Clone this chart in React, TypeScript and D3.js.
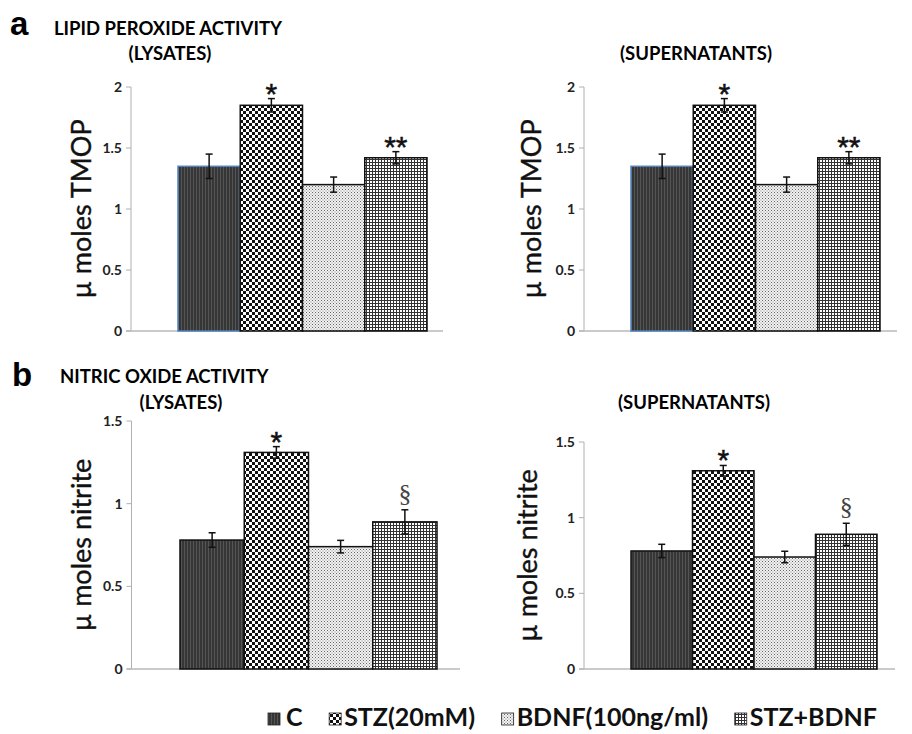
import React, { useLayoutEffect, useRef, useState } from "react";
import * as d3 from "d3";

// ---------- DATA ----------
const categories = ["C", "STZ(20mM)", "BDNF(100ng/ml)", "STZ+BDNF"];

const lipidLysates = [1.35, 1.85, 1.2, 1.42];
const lipidLysatesErr = [0.1, 0.055, 0.062, 0.05];
const lipidSupernatants = [1.35, 1.85, 1.2, 1.42];
const lipidSupernatantsErr = [0.1, 0.055, 0.062, 0.05];

const nitricLysates = [0.78, 1.31, 0.74, 0.89];
const nitricLysatesErr = [0.044, 0.035, 0.038, 0.073];
const nitricSupernatants = [0.78, 1.31, 0.74, 0.89];
const nitricSupernatantsErr = [0.044, 0.035, 0.038, 0.073];

const lipidTicks = [0, 0.5, 1, 1.5, 2];
const nitricTicks = [0, 0.5, 1, 1.5];

const lipidMarks = ["", "*", "", "**"];
const nitricMarks = ["", "*", "", "§"];

const patternIds = ["patC", "patSTZ", "patBDNF", "patBoth"];

const FONT = "Lato, 'Open Sans', sans-serif";

type PanelProps = {
  values: number[];
  errors: number[];
  marks: string[];
  ticks: number[];
  yMax: number;
  axisX: number;
  yTop: number;
  yBottom: number;
  barX0: number;
  barX1: number;
  xEnd: number;
  label: string;
  labelX: number;
  firstStroke: string;
};

function Panel(p: PanelProps) {
  const y = d3.scaleLinear().domain([0, p.yMax]).range([p.yBottom, p.yTop]);
  const x = d3.scaleBand<string>().domain(categories).range([p.barX0, p.barX1]).padding(0);
  const bw = x.bandwidth();
  const midY = (p.yTop + p.yBottom) / 2;
  return (
    <g>
      <line x1={p.axisX} x2={p.axisX} y1={y(p.yMax)} y2={p.yBottom} stroke="#b0b0b0" strokeWidth={1} />
      {p.ticks.map((t) => (
        <g key={t}>
          <line x1={p.axisX - 5} x2={p.axisX} y1={y(t)} y2={y(t)} stroke="#b0b0b0" strokeWidth={1} />
          <text
            x={p.axisX - 9}
            y={y(t)}
            dy="0.35em"
            textAnchor="end"
            fontFamily={FONT}
            fontWeight="bold"
            fontSize={14}
            fill="#222"
          >
            {d3.format("~g")(t)}
          </text>
        </g>
      ))}
      <line x1={p.axisX - 5} x2={p.xEnd} y1={p.yBottom} y2={p.yBottom} stroke="#b8b8b8" strokeWidth={1.5} />
      {categories.map((c, i) => (
        <rect
          key={c}
          x={x(c)}
          y={y(p.values[i])}
          width={bw}
          height={p.yBottom - y(p.values[i])}
          fill={`url(#${patternIds[i]})`}
          stroke={i === 0 ? p.firstStroke : "#111"}
          strokeWidth={1.5}
        />
      ))}
      {categories.map((c, i) => {
        const cx = (x(c) as number) + bw / 2;
        const top = y(p.values[i] + p.errors[i]);
        const bot = y(p.values[i] - p.errors[i]);
        return (
          <g key={c} stroke="#111" strokeWidth={1.5}>
            <line x1={cx} x2={cx} y1={top} y2={bot} />
            <line x1={cx - 3.5} x2={cx + 3.5} y1={top} y2={top} />
            <line x1={cx - 3.5} x2={cx + 3.5} y1={bot} y2={bot} />
          </g>
        );
      })}
      {categories.map((c, i) => {
        const m = p.marks[i];
        if (!m) return null;
        const cx = (x(c) as number) + bw / 2;
        const top = y(p.values[i] + p.errors[i]);
        if (m === "§") {
          return (
            <text key={c} x={cx} y={top - 8} textAnchor="middle" fontFamily="'Liberation Serif', serif" fontSize={26} fill="#444">
              {m}
            </text>
          );
        }
        return (
          <text key={c} x={cx} y={top + 5} textAnchor="middle" fontFamily="'Liberation Sans', Arial, sans-serif" fontSize={30} fill="#111" stroke="#111" strokeWidth={0.5}>
            {m}
          </text>
        );
      })}
      <text
        transform={`translate(${p.labelX},${midY}) rotate(-90)`}
        textAnchor="middle"
        fontFamily={FONT}
        fontSize={27}
        fill="#111"
        stroke="#111"
        strokeWidth={0.4}
      >
        {p.label}
      </text>
    </g>
  );
}

function Patterns() {
  return (
    <defs>
      <pattern id="patC" width={3} height={4} patternUnits="userSpaceOnUse">
        <rect width={3} height={4} fill="#363636" />
        <rect x={1} width={1} height={4} fill="#555" />
      </pattern>
      <pattern id="patSTZ" width={6} height={6} patternUnits="userSpaceOnUse">
        <rect width={6} height={6} fill="#ffffff" />
        <rect width={3} height={3} fill="#111" />
        <rect x={3} y={3} width={3} height={3} fill="#111" />
      </pattern>
      <pattern id="patBDNF" width={3} height={3} patternUnits="userSpaceOnUse">
        <rect width={3} height={3} fill="#f2f2f2" />
        <rect width={1} height={1} fill="#666" />
        <rect x={1.5} y={1.5} width={1} height={1} fill="#888" />
      </pattern>
      <pattern id="patBoth" width={3} height={3} patternUnits="userSpaceOnUse">
        <rect width={3} height={3} fill="#ffffff" />
        <rect width={3} height={1} fill="#333" />
        <rect width={1} height={3} fill="#333" />
      </pattern>
    </defs>
  );
}

const LEGEND_LEFT = 268;
const LEGEND_RIGHT = 877;
const LEGEND_SQ = 12;
const LEGEND_SQ_GAP = 3;
const LEGEND_FIRST_GAP = 6;

function Legend() {
  const refs = useRef<(SVGTextElement | null)[]>([]);
  const [widths, setWidths] = useState<number[] | null>(null);
  useLayoutEffect(() => {
    const w = refs.current.map((el) => (el ? el.getComputedTextLength() : 0));
    setWidths(w);
  }, []);
  const w = widths || categories.map(() => 100);
  const gapsFirst = [LEGEND_FIRST_GAP, LEGEND_SQ_GAP, LEGEND_SQ_GAP, LEGEND_SQ_GAP];
  const content = w.reduce((s, v, i) => s + LEGEND_SQ + gapsFirst[i] + v, 0);
  const between = (LEGEND_RIGHT - LEGEND_LEFT - content) / (categories.length - 1);
  let cursor = LEGEND_LEFT;
  const items = categories.map((c, i) => {
    const sx = cursor;
    const tx = sx + LEGEND_SQ + gapsFirst[i];
    cursor = tx + w[i] + between;
    return { c, sx, tx, i };
  });
  return (
    <g style={{ visibility: widths ? "visible" : "hidden" }}>
      {items.map(({ c, sx, tx, i }) => (
        <g key={c}>
          <rect x={sx} y={713} width={LEGEND_SQ} height={LEGEND_SQ} fill={`url(#${patternIds[i]})`} stroke="#222" strokeWidth={0.8} />
          <text
            ref={(el) => { refs.current[i] = el; }}
            x={tx}
            y={726}
            fontFamily={FONT}
            fontWeight="bold"
            fontSize={25}
            fill="#111"
          >
            {c}
          </text>
        </g>
      ))}
    </g>
  );
}

export default function App() {
  const head = { fontFamily: FONT, fontWeight: "bold" as const, fontSize: 18.5 };
  return (
    <svg width={912} height={734} style={{ position: "absolute", left: 0, top: 0, background: "#fff" }}>
      <Patterns />
      <rect width={912} height={734} fill="#fff" />
      <text x={10} y={35} fontFamily="'Liberation Sans', Arial, sans-serif" fontWeight="bold" fontSize={33}>a</text>
      <text x={54} y={35} {...head}>LIPID PEROXIDE ACTIVITY</text>
      <text x={170} y={60} textAnchor="middle" {...head}>(LYSATES)</text>
      <text x={696} y={60} textAnchor="middle" {...head}>(SUPERNATANTS)</text>

      <text x={12} y={386} fontFamily="'Liberation Sans', Arial, sans-serif" fontWeight="bold" fontSize={33}>b</text>
      <text x={60} y={383} {...head}>NITRIC OXIDE ACTIVITY</text>
      <text x={181} y={409} textAnchor="middle" {...head}>(LYSATES)</text>
      <text x={694} y={409} textAnchor="middle" {...head}>(SUPERNATANTS)</text>

      <Panel values={lipidLysates} errors={lipidLysatesErr} marks={lipidMarks} ticks={lipidTicks} yMax={2}
        axisX={131} yTop={87} yBottom={331} barX0={178} barX1={427} xEnd={443}
        label="µ moles TMOP" labelX={91} firstStroke="#4f81bd" />
      <Panel values={lipidSupernatants} errors={lipidSupernatantsErr} marks={lipidMarks} ticks={lipidTicks} yMax={2}
        axisX={584} yTop={87} yBottom={331} barX0={631} barX1={880} xEnd={897}
        label="µ moles TMOP" labelX={541} firstStroke="#4f81bd" />
      <Panel values={nitricLysates} errors={nitricLysatesErr} marks={nitricMarks} ticks={nitricTicks} yMax={1.5}
        axisX={131.5} yTop={421} yBottom={669} barX0={180} barX1={437} xEnd={460}
        label="µ moles nitrite" labelX={91} firstStroke="#111" />
      <Panel values={nitricSupernatants} errors={nitricSupernatantsErr} marks={nitricMarks} ticks={nitricTicks} yMax={1.5}
        axisX={584} yTop={442} yBottom={669} barX0={631} barX1={877} xEnd={895}
        label="µ moles nitrite" labelX={537} firstStroke="#111" />

      <Legend />
    </svg>
  );
}
